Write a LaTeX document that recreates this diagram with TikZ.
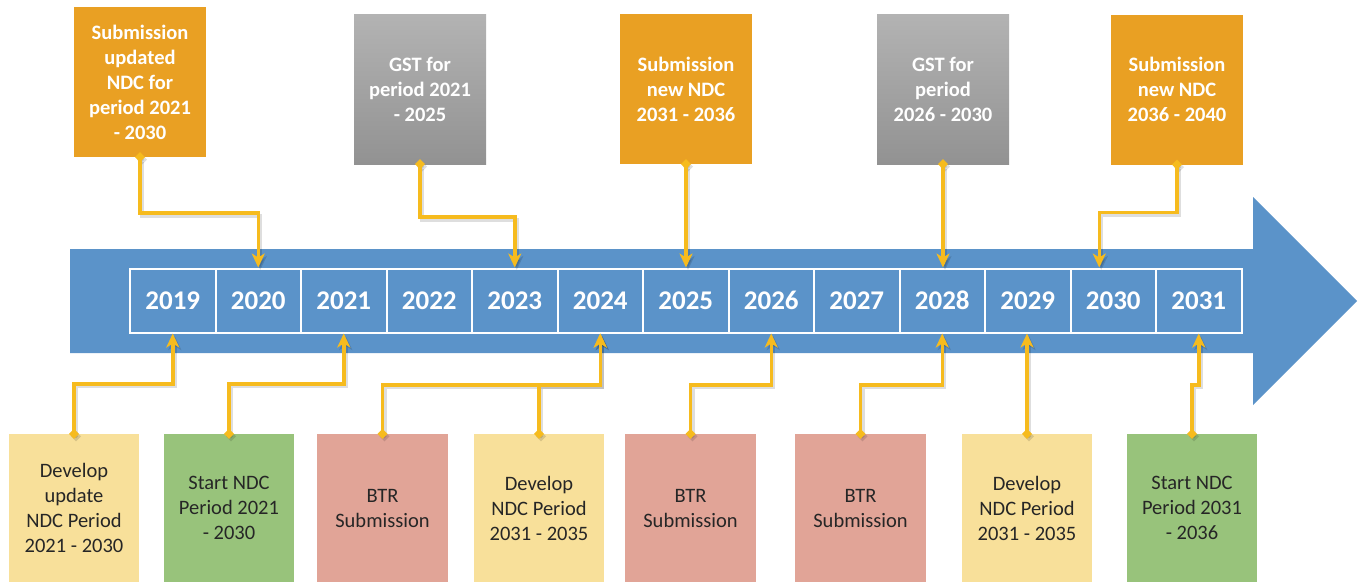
\documentclass[tikz,border=0pt]{standalone}
\usepackage{fontspec}
\setmainfont{Carlito}
\usetikzlibrary{arrows.meta,calc}
\definecolor{tlblue}{HTML}{5B93C9}
\definecolor{tlorange}{HTML}{E9A023}
\definecolor{tlgrayA}{HTML}{B3B3B3}
\definecolor{tlgrayB}{HTML}{929292}
\definecolor{tlyellow}{HTML}{F8E09A}
\definecolor{tlgreen}{HTML}{98C37B}
\definecolor{tlred}{HTML}{E1A497}
\definecolor{tlgold}{HTML}{F6BB1E}
\definecolor{tltext}{HTML}{262626}
\newcommand\tlconn[1]{%
  \begin{scope}[transform canvas={shift={(2,2.5)}}]\draw[connshadow] #1;\end{scope}
  \draw[conn] #1;}
\begin{document}
\begin{tikzpicture}[x=1pt,y=-1pt,
  yearbox/.style={draw=white,line width=2pt,fill=tlblue,minimum width=85.5pt,minimum height=64pt,inner sep=0pt,text=white,font=\fontsize{27}{30}\selectfont\bfseries},
  topbox/.style={inner sep=0pt,minimum width=132pt,minimum height=150pt,text=white,align=center,font=\fontsize{20.5}{25}\selectfont\bfseries},
  orangebox/.style={topbox,fill=tlorange},
  graybox/.style={topbox,top color=tlgrayA,bottom color=tlgrayB},
  botbox/.style={inner sep=0pt,minimum width=130pt,minimum height=148pt,text=tltext,align=center,font=\fontsize{20.5}{25}\selectfont},
  conn/.style={draw=tlgold,line width=3.5pt,{Diamond[length=10pt,width=10pt,sep=-5pt]}-{Stealth[length=14pt,width=13pt,inset=4pt]}},
  connshadow/.style={draw=black,opacity=0.13,line width=4pt,{Diamond[length=10pt,width=10pt,sep=-5pt]}-{Stealth[length=14pt,width=13pt,inset=4pt]}},
]
\useasboundingbox (0,0) rectangle (1362,582);
% timeline arrow
\fill[tlblue] (70,249) -- (1253,249) -- (1253,197) -- (1357,301) -- (1253,405) -- (1253,353) -- (70,353) -- cycle;
% years
\foreach \yr [count=\i from 0] in {2019,...,2031}
  \node[yearbox] (y\yr) at ({172.75+85.5*\i},300.5) {\yr};
% top boxes
\node[orangebox] (t1) at (140,82) {Submission\\updated\\NDC for\\period 2021\\- 2030};
\node[graybox] (t2) at (420,89) {GST for\\period 2021\\- 2025};
\node[orangebox] (t3) at (686,89) {Submission\\new NDC\\2031 - 2036};
\node[graybox] (t4) at (943,89) {GST for\\period\\2026 - 2030};
\node[orangebox] (t5) at (1177,89.5) {Submission\\new NDC\\2036 - 2040};
% bottom boxes
\node[botbox,fill=tlyellow] (b1) at (74,508) {Develop\\update\\NDC Period\\2021 - 2030};
\node[botbox,fill=tlgreen] (b2) at (229,508) {Start NDC\\Period 2021\\- 2030};
\node[botbox,fill=tlred,minimum width=131pt] (b3) at (382.5,508) {BTR\\Submission};
\node[botbox,fill=tlyellow] (b4) at (539,508) {Develop\\NDC Period\\2031 - 2035};
\node[botbox,fill=tlred,minimum width=131pt] (b5) at (690.5,508) {BTR\\Submission};
\node[botbox,fill=tlred,minimum width=131pt] (b6) at (860.5,508) {BTR\\Submission};
\node[botbox,fill=tlyellow] (b7) at (1027,508) {Develop\\NDC Period\\2031 - 2035};
\node[botbox,fill=tlgreen] (b8) at (1192,508) {Start NDC\\Period 2031\\- 2036};
% top connectors
\tlconn{(t1.south) -- ++(0,56) -| (y2020.north)}
\tlconn{(t2.south) -- ++(0,53) -| (y2023.north)}
\tlconn{(t3.south) -- (t3.south |- y2025.north)}
\tlconn{(t4.south) -- (t4.south |- y2028.north)}
\tlconn{(t5.south) -- ++(0,48) -| ($(y2030.north)+(-14,0)$)}
% bottom connectors
\tlconn{(b1.north) -- ++(0,-50) -| (y2019.south)}
\tlconn{(b2.north) -- ++(0,-50) -| (y2021.south)}
\tlconn{(b3.north) -- ++(0,-49) -| (y2024.south)}
\tlconn{(b4.north) -- ++(0,-49) -| (y2024.south)}
\tlconn{(b5.north) -- ++(0,-49) -| (y2026.south)}
\tlconn{(b6.north) -- ++(0,-49) -| (y2028.south)}
\tlconn{(b7.north) -- (b7.north |- y2029.south)}
\tlconn{(b8.north) -- ++(0,-49) -| (y2031.south)}
\end{tikzpicture}
\end{document}
